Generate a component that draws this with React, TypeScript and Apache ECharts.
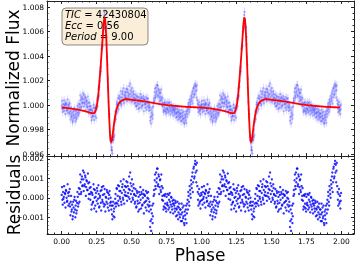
import React, { useEffect, useRef } from "react";
import * as echarts from "echarts";

// phase grid step (one cycle, repeated for phase 1..2)
const phaseStep = 0.005;
const cycles = [0, 1];

// model flux minus 1, in units of 1e-5, one value per phase step
const modelE5 = [
  -20, -21, -21, -22, -22, -23, -24, -24, -25, -26,
  -27, -27, -28, -29, -30, -31, -31, -32, -33, -34,
  -35, -36, -37, -38, -39, -40, -41, -42, -43, -44,
  -45, -47, -48, -50, -51, -53, -55, -56, -58, -59,
  -61, -63, -64, -66, -67, -68, -67, -63, -52, -35,
  -12, 20, 65, 125, 195, 265, 340, 420, 500, 585,
  665, 715, 705, 635, 515, 360, 190, 30, -110, -225,
  -290, -305, -285, -240, -190, -145, -105, -72, -45, -24,
  -8, 5, 15, 22, 28, 33, 37, 40, 42, 44,
  46, 47, 47, 47, 47, 46, 46, 45, 45, 44,
  43, 43, 42, 41, 41, 40, 39, 39, 38, 37,
  36, 35, 35, 34, 33, 32, 31, 30, 29, 29,
  28, 27, 26, 25, 24, 23, 22, 21, 20, 19,
  18, 17, 16, 15, 14, 13, 12, 11, 10, 9,
  8, 7, 6, 6, 5, 4, 3, 3, 2, 1,
  1, 0, -1, -1, -2, -3, -3, -4, -4, -5,
  -6, -6, -7, -7, -8, -8, -9, -9, -10, -10,
  -11, -11, -12, -12, -13, -13, -13, -14, -14, -15,
  -15, -15, -16, -16, -16, -17, -17, -17, -17, -18,
  -18, -18, -18, -19, -19, -19, -19, -19, -20, -20,
];

// residuals (data - model), in units of 1e-5, first set of observations
const residE5 = [
  15, -10, 30, 5, -25, 20, 40, 0, -15, 25,
  10, -30, -45, -20, -70, -35, -95, -50, -10, -60,
  -40, -80, -25, 5, -30, 20, 45, 80, 30, 110,
  65, 95, 130, 70, 105, 55, 85, 40, 75, 20,
  50, -10, 30, -35, 15, -20, 45, 0, -40, 25,
  -15, 35, -5, 20, -45, 10, -25, 40, -10, 15,
  -30, 20, -35, 5, -20, 30, -50, -5, 15, -40,
  0, -60, -85, -40, -95, -55, -30, 20, -25, 45,
  10, -15, 60, 5, 35, -20, 25, 70, -10, 40,
  15, 30, 55, 10, 80, 25, 45, -5, 130, 20,
  60, 35, -10, 50, 15, -20, 10, -45, 25, -30,
  5, -60, 15, -10, 30, -40, 0, 20, -25, 10,
  -50, -15, 25, -35, -5, -70, -40, -120, -170, -80,
  -130, -30, 40, 90, 60, 130, 100, 150, 70, 110,
  55, 95, 30, 60, 10, -15, -45, 10, -30, -55,
  5, -25, -40, 15, -50, -20, -35, 0, -60, -30,
  -10, -40, -70, -25, -55, -90, -45, -75, -30, -100,
  -60, -85, -120, -50, -95, -130, -70, -110, -40, -80,
  -10, 30, -20, 60, 20, 90, 50, 130, 80, 160,
  110, 190, 170, 140, 60, -10, 20, -30, 10, -15,
];

// residuals of the second set of observations, half a step later in phase (1e-5)
const residE5b = [
  55, -35, -5, 60, 25, -50, 35, -20, 70, -40,
  30, 45, -90, 10, -60, -110, -20, -75, 5, -100,
  -15, -65, 30, -45, 50, -20, 120, 20, 95, 60,
  140, 35, 60, 115, 10, 90, 40, 125, -5, 80,
  20, 55, -60, 25, -25, 70, -55, 40, 5, -70,
  50, -30, 65, -50, 0, 35, -65, 55, -20, 60,
  -45, 45, -70, 0, 40, -30, 25, -65, 35, -25,
  -20, -40, -110, -20, -70, -100, -5, -45, 50, -30,
  65, -40, 35, -5, 85, -35, 55, 0, 95, -30,
  60, 10, 85, -15, 60, 5, 110, 40, 75, -20,
  95, 0, 70, 20, -30, 45, -50, 35, -15, -70,
  30, -25, 55, -55, 20, -35, 40, -80, 15, -20,
  35, -65, 0, 30, -45, -20, -150, -60, -110, -40,
  -95, 10, 20, 120, 45, 80, 150, 60, 120, 20,
  90, 40, 120, -10, 50, -60, 15, -50, 20, -70,
  -35, 20, -60, -10, 25, -75, 5, -45, -15, -80,
  -30, -55, -15, -95, -60, -20, -110, -50, -85, -60,
  -120, -30, -75, -105, -40, -140, -90, -60, -130, -30,
  -60, 10, -40, 40, 0, 70, 110, 30, 150, 100,
  175, 130, 80, 180, 30, -40, 45, -20, -55, 25,
];

const fluxErrE5 = 35;

const xTicks = [0, 0.25, 0.5, 0.75, 1.0, 1.25, 1.5, 1.75, 2.0];
const fluxTicks = [0.996, 0.998, 1.0, 1.002, 1.004, 1.006, 1.008];
const residTicks = [-0.001, 0.0, 0.001, 0.002];

const infoLines = [
  ["TIC", "42430804"],
  ["Ecc", "0.56"],
  ["Period", "9.00"],
];

const FONT = "DejaVu Sans";

function range(a: number, b: number, step: number) {
  const out: number[] = [];
  const n = Math.round((b - a) / step);
  for (let i = 0; i <= n; i++) out.push(Math.round((a + i * step) * 1e7) / 1e7);
  return out;
}

export default function App() {
  const ref = useRef<HTMLDivElement>(null);
  useEffect(() => {
    if (!ref.current) return;
    const chart = echarts.init(ref.current, undefined, { renderer: "svg" });

    const modelLine: number[][] = [];
    const fluxPts: number[][] = [];
    const residPts: number[][] = [];
    const sets = [
      { res: residE5, shift: 0 },
      { res: residE5b, shift: phaseStep / 2 },
    ];
    cycles.forEach((c) => {
      modelE5.forEach((m, i) => {
        const ph = Math.round((c + i * phaseStep) * 1e6) / 1e6;
        modelLine.push([ph, 1 + m * 1e-5]);
      });
      sets.forEach((s) => {
        modelE5.forEach((m, i) => {
          const ph = Math.round((c + i * phaseStep + s.shift) * 1e6) / 1e6;
          const mv = 1 + m * 1e-5;
          const r = s.res[i] * 1e-5;
          fluxPts.push([ph, mv + r, fluxErrE5 * 1e-5]);
          residPts.push([ph, r]);
        });
      });
    });

    const xMin = -0.105, xMax = 2.09;
    const fMin = 0.99584, fMax = 1.00849;
    const rMin = -0.00186, rMax = 0.00215;

    const xMinor = range(-0.1, 2.05, 0.05);
    const fMinor = range(0.996, 1.008, 0.0005);
    const rMinor = range(-0.0018, 0.002, 0.0002);

    const lineCol = "#222";
    const tickCol = "#222";

    const grids = [
      { left: 47, top: 1, width: 307, height: 155 },
      { left: 47, top: 156, width: 307, height: 78 },
    ];

    const xAxis: any[] = [];
    const yAxis: any[] = [];
    const mkX = (grid: number, pos: string, ticks: number[], len: number, showLine: boolean, labels: boolean) => ({
      type: "value", gridIndex: grid, position: pos, min: xMin, max: xMax,
      axisLine: { show: showLine, onZero: false, lineStyle: { color: lineCol, width: 1 } },
      axisTick: { show: true, inside: true, length: len, customValues: ticks, lineStyle: { color: tickCol, width: 1 } },
      axisLabel: labels
        ? { show: true, customValues: xTicks, formatter: (v: number) => v.toFixed(2), fontFamily: FONT, fontSize: 7.5, color: "#000", margin: 3 }
        : { show: false },
      splitLine: { show: false },
    });
    const mkY = (grid: number, pos: string, min: number, max: number, ticks: number[], len: number, showLine: boolean, labels: number[] | null) => ({
      type: "value", gridIndex: grid, position: pos, min, max,
      axisLine: { show: showLine, onZero: false, lineStyle: { color: lineCol, width: 1 } },
      axisTick: { show: true, inside: true, length: len, customValues: ticks, lineStyle: { color: tickCol, width: 1 } },
      axisLabel: labels
        ? { show: true, customValues: labels, formatter: (v: number) => (v < 0 ? "\u2212" + Math.abs(v).toFixed(3) : v.toFixed(3)), fontFamily: FONT, fontSize: 7.5, color: "#000", margin: 3 }
        : { show: false },
      splitLine: { show: false },
    });

    xAxis.push(mkX(0, "bottom", xTicks, 3, true, false));
    xAxis.push(mkX(0, "top", xTicks, 3, true, false));
    xAxis.push(mkX(0, "bottom", xMinor, 1.5, false, false));
    xAxis.push(mkX(0, "top", xMinor, 1.5, false, false));
    xAxis.push(mkX(1, "bottom", xTicks, 3, true, true));
    xAxis.push(mkX(1, "top", xTicks, 3, true, false));
    xAxis.push(mkX(1, "bottom", xMinor, 1.5, false, false));
    xAxis.push(mkX(1, "top", xMinor, 1.5, false, false));

    yAxis.push(mkY(0, "left", fMin, fMax, fluxTicks, 3, true, fluxTicks));
    yAxis.push(mkY(0, "right", fMin, fMax, fluxTicks, 3, true, null));
    yAxis.push(mkY(0, "left", fMin, fMax, fMinor, 1.5, false, null));
    yAxis.push(mkY(0, "right", fMin, fMax, fMinor, 1.5, false, null));
    yAxis.push(mkY(1, "left", rMin, rMax, residTicks, 3, true, residTicks));
    yAxis.push(mkY(1, "right", rMin, rMax, residTicks, 3, true, null));
    yAxis.push(mkY(1, "left", rMin, rMax, rMinor, 1.5, false, null));
    yAxis.push(mkY(1, "right", rMin, rMax, rMinor, 1.5, false, null));

    const boxX = 62, boxY = 8, boxW = 86, boxH = 37;

    chart.setOption({
      animation: false,
      grid: grids,
      xAxis,
      yAxis,
      series: [
        {
          type: "custom",
          xAxisIndex: 0,
          yAxisIndex: 0,
          clip: true,
          z: 1,
          data: fluxPts,
          renderItem: (params: any, api: any) => {
            const x = api.value(0), y = api.value(1), e = api.value(2);
            const p1 = api.coord([x, y - e]);
            const p2 = api.coord([x, y + e]);
            return {
              type: "line",
              shape: { x1: p1[0], y1: p1[1], x2: p2[0], y2: p2[1] },
              style: { stroke: "rgba(110,110,255,0.25)", lineWidth: 1 },
            };
          },
        },
        {
          type: "scatter",
          xAxisIndex: 0,
          yAxisIndex: 0,
          z: 2,
          symbolSize: 2.4,
          itemStyle: { color: "rgba(30,30,255,0.35)" },
          data: fluxPts.map((p) => [p[0], p[1]]),
        },
        {
          type: "line",
          xAxisIndex: 0,
          yAxisIndex: 0,
          z: 3,
          showSymbol: false,
          symbol: "none",
          lineStyle: { color: "#ff0000", width: 1.8 },
          data: modelLine,
        },
        {
          type: "scatter",
          xAxisIndex: 4,
          yAxisIndex: 4,
          z: 2,
          symbolSize: 2.4,
          itemStyle: { color: "#0000ff" },
          data: residPts,
        },
      ],
      graphic: [
        {
          type: "group",
          z: 100,
          children: [
            {
              type: "rect",
              shape: { x: boxX, y: boxY, width: boxW, height: boxH, r: 4 },
              style: { fill: "rgba(245,222,179,0.5)", stroke: "rgba(0,0,0,0.45)", lineWidth: 1 },
            },
            ...infoLines.map((ln, k) => ({
              type: "text",
              x: boxX + 3,
              y: boxY + 6 + k * 11,
              style: {
                text: "{i|" + ln[0] + "} = " + ln[1],
                rich: { i: { fontStyle: "italic", fontFamily: FONT, fontSize: 10, fill: "#000" } },
                fontFamily: FONT,
                fontSize: 10,
                fill: "#000",
                verticalAlign: "middle",
                align: "left",
              },
            })),
          ],
        },
        {
          type: "text",
          x: 13,
          y: 78,
          rotation: Math.PI / 2,
          style: { text: "Normalized Flux", fontFamily: FONT, fontSize: 17, fill: "#000", align: "center", verticalAlign: "middle" },
        },
        {
          type: "text",
          x: 14,
          y: 195,
          rotation: Math.PI / 2,
          style: { text: "Residuals", fontFamily: FONT, fontSize: 17, fill: "#000", align: "center", verticalAlign: "middle" },
        },
        {
          type: "text",
          x: 200,
          y: 254.5,
          style: { text: "Phase", fontFamily: FONT, fontSize: 17, fill: "#000", align: "center", verticalAlign: "middle" },
        },
      ],
    });
    return () => chart.dispose();
  }, []);
  return <div ref={ref} style={{ position: "fixed", left: 0, top: 0, width: 356, height: 263 }} />;
}
